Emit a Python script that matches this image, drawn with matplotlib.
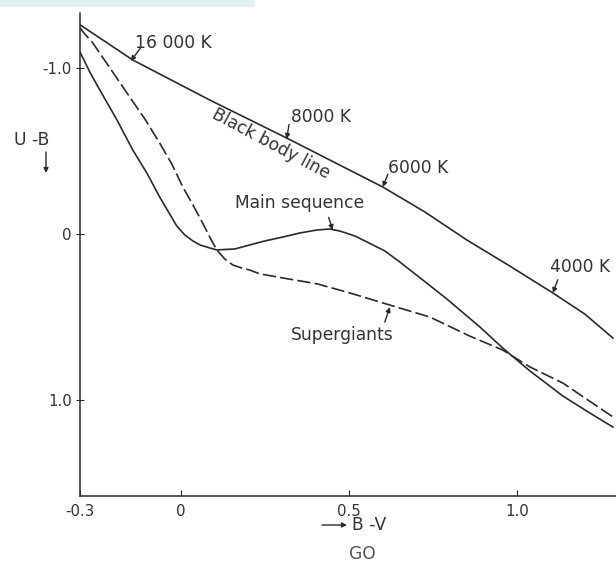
""" two-colour diagram: U-B against B-V """
import matplotlib
matplotlib.use('Agg')
import matplotlib.pyplot as plt
from matplotlib.patches import Rectangle

plt.rcParams['font.family'] = ['DejaVu Sans']
plt.rcParams['axes.unicode_minus'] = False

''' curve data read off the figure (B-V, U-B) '''
bb_bv = [-0.30, -0.143, 0.086, 0.315, 0.601, 0.726, 0.851, 0.979, 1.107, 1.202, 1.286]
bb_ub = [-1.26, -1.048, -0.807, -0.578, -0.283, -0.133, 0.036, 0.193, 0.355, 0.482, 0.627]

ms_bv = [-0.300, -0.271, -0.241, -0.190, -0.143, -0.101, -0.063, -0.033, -0.012, 0.012,
         0.036, 0.057, 0.086, 0.107, 0.161, 0.205, 0.250, 0.304, 0.354, 0.405,
         0.443, 0.473, 0.518, 0.554, 0.607, 0.652, 0.720, 0.792, 0.890, 0.958,
         1.039, 1.137, 1.217, 1.286]
ms_ub = [-1.096, -0.976, -0.867, -0.687, -0.506, -0.367, -0.223, -0.120, -0.048, 0.006,
         0.042, 0.066, 0.084, 0.096, 0.090, 0.066, 0.042, 0.018, -0.006, -0.024,
         -0.030, -0.018, 0.012, 0.048, 0.102, 0.169, 0.277, 0.392, 0.560, 0.687,
         0.825, 0.976, 1.078, 1.163]

sg_bv = [-0.300, -0.286, -0.262, -0.211, -0.152, -0.107, -0.063, -0.027, 0.006, 0.036,
         0.065, 0.086, 0.107, 0.131, 0.155, 0.182, 0.205, 0.235, 0.304, 0.405, 0.503,
         0.622, 0.741, 0.860, 0.958, 1.039, 1.137, 1.286]
sg_ub = [-1.241, -1.205, -1.151, -1.000, -0.825, -0.693, -0.548, -0.422, -0.283, -0.175,
         -0.066, 0.018, 0.096, 0.151, 0.187, 0.205, 0.217, 0.240, 0.265, 0.300, 0.355,
         0.428, 0.500, 0.615, 0.699, 0.801, 0.898, 1.102]

# temperature marks on the black body line: label, point on line
temp_labels = ['16 000 K', '8000 K', '6000 K', '4000 K']
temp_bv = [-0.149, 0.315, 0.601, 1.107]
temp_ub = [-1.042, -0.572, -0.283, 0.355]

x_ticks = [-0.3, 0, 0.5, 1.0]
x_tick_labels = ['-0.3', '0', '0.5', '1.0']
y_ticks = [-1.0, 0, 1.0]
y_tick_labels = ['-1.0', '0', '1.0']

ink = '#2a2a2a'
txt = '#333333'
fs = 12.3

fig = plt.figure(figsize=(6.16, 5.62), dpi=100)
ax = fig.add_axes([80 / 616, 1 - 496 / 562, 536 / 616, 483 / 562])

# light strip at the top left of the scan
fig.patches.append(Rectangle((0, 1 - 7 / 562), 255 / 616, 7 / 562, transform=fig.transFigure,
                             facecolor='#e2eff3', edgecolor='none'))

ax.plot(bb_bv, bb_ub, color=ink, lw=1.2)
ax.plot(ms_bv, ms_ub, color=ink, lw=1.2)
ax.plot(sg_bv, sg_ub, color=ink, lw=1.2, dashes=(8, 2.5))

ax.set_xlim(-0.3, 1.295)
ax.set_ylim(1.578, -1.331)

for s in ['top', 'right']:
    ax.spines[s].set_visible(False)
for s in ['left', 'bottom']:
    ax.spines[s].set_color(ink)
    ax.spines[s].set_linewidth(1.1)

ax.set_xticks(x_ticks)
ax.set_xticklabels(x_tick_labels)
ax.set_yticks(y_ticks)
ax.set_yticklabels(y_tick_labels)
ax.tick_params(axis='x', direction='in', length=4, pad=6, labelsize=10.8, colors=ink, labelcolor=txt)
ax.tick_params(axis='y', direction='inout', length=6, pad=3, labelsize=10.8, colors=ink, labelcolor=txt)

''' labels with small arrows '''
arrow = dict(arrowstyle='-|>', color=ink, lw=1.0, mutation_scale=7, shrinkA=0, shrinkB=0)
label_off = [(-0.12, -1.12), (0.322, -0.66), (0.616, -0.36), (1.122, 0.275)]
text_pos = [(-0.137, -1.151), (0.328, -0.705), (0.616, -0.40), (1.098, 0.20)]
for lab, bx, by, (tx, ty), (lx, ly) in zip(temp_labels, temp_bv, temp_ub, label_off, text_pos):
    ax.annotate('', xy=(bx, by), xytext=(tx, ty), arrowprops=arrow)
    ax.text(lx, ly, lab, ha='left', va='center', fontsize=fs, color=txt)

ax.annotate('', xy=(0.452, -0.024), xytext=(0.440, -0.10), arrowprops=arrow)
ax.text(0.354, -0.187, 'Main sequence', ha='center', va='center', fontsize=fs, color=txt)

ax.annotate('', xy=(0.622, 0.440), xytext=(0.607, 0.530), arrowprops=arrow)
ax.text(0.479, 0.608, 'Supergiants', ha='center', va='center', fontsize=fs, color=txt)

ax.text(0.268, -0.545, 'Black body line', ha='center', va='center', fontsize=fs,
        color=txt, rotation=-28, rotation_mode='anchor')

''' axis names '''
fig.text(32 / 616, 1 - 140 / 562, 'U -B', ha='center', va='center', fontsize=fs, color=txt)
ax.annotate('', xy=(46, 562 - 173), xytext=(46, 562 - 152), xycoords='figure pixels',
            textcoords='figure pixels', arrowprops=arrow)

fig.text(369 / 616, 1 - 525 / 562, 'B -V', ha='center', va='center', fontsize=fs, color=txt)
ax.annotate('', xy=(347, 562 - 525), xytext=(322, 562 - 525), xycoords='figure pixels',
            textcoords='figure pixels', arrowprops=arrow)
fig.text(362 / 616, 1 - 554 / 562, 'GO', ha='center', va='center', fontsize=fs, color='#555555')

fig.savefig('out.png', dpi=100)
